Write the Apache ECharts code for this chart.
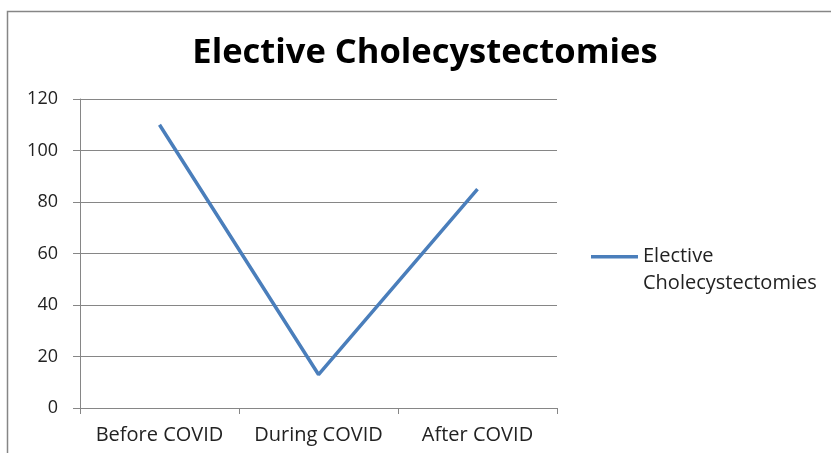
<!DOCTYPE html>
<html><head><meta charset="utf-8">
<script src="https://cdn.jsdelivr.net/npm/echarts@6/dist/echarts.min.js"></script>
<style>html,body{margin:0;padding:0;background:#fff}#c{width:831px;height:453px}</style>
</head><body><div id="c"></div>
<script>
const categories = ['Before COVID', 'During COVID', 'After COVID'];
const seriesName = 'Elective Cholecystectomies';
const values = [110, 13, 85];
const yTicks = { min: 0, max: 120, interval: 20 };

const chart = echarts.init(document.getElementById('c'));
const font = 'Open Sans';
chart.setOption({
  animation: false,
  backgroundColor: '#fff',
  title: {
    text: 'Elective Cholecystectomies',
    left: 425, top: 36, textAlign: 'center', padding: 0,
    textStyle: { fontFamily: font, fontWeight: 'bold', fontSize: 34.5, color: '#000' }
  },
  graphic: [{
    type: 'rect', shape: { x: 7.5, y: 11.5, width: 830, height: 450 },
    style: { fill: 'none', stroke: '#868686', lineWidth: 1.5 }, silent: true
  }],
  legend: {
    left: 591, top: 243, orient: 'vertical', padding: 0,
    itemWidth: 47, itemHeight: 30, itemGap: 4,
    data: [{ name: seriesName, icon: 'path://M0,0h47v3.5h-47z M0,30h0.01v0.01h-0.01z' }],
    formatter: () => 'Elective\nCholecystectomies',
    textStyle: { fontFamily: font, fontSize: 20, color: '#222', lineHeight: 27 }
  },
  grid: { left: 80, right: 274, top: 99, bottom: 45, containLabel: false },
  xAxis: {
    type: 'category', data: categories, boundaryGap: true,
    axisLine: { lineStyle: { color: '#868686', width: 1 } },
    axisTick: { show: true, interval: 0, length: 6, lineStyle: { color: '#868686' } },
    axisLabel: { interval: 0, hideOverlap: false, fontFamily: font, fontSize: 20, color: '#222', margin: 17 }
  },
  yAxis: {
    type: 'value', min: yTicks.min, max: yTicks.max, interval: yTicks.interval,
    axisLine: { show: true, lineStyle: { color: '#868686' } },
    axisTick: { show: true, length: 7, lineStyle: { color: '#868686' } },
    axisLabel: { fontFamily: font, fontSize: 18, color: '#222', margin: 22 },
    splitLine: { lineStyle: { color: '#868686', width: 1 } }
  },
  series: [{
    name: seriesName, type: 'line', data: values, symbol: 'none',
    lineStyle: { color: '#4a7ebb', width: 3.5 }, itemStyle: { color: '#4a7ebb' }
  }]
});
</script></body></html>
